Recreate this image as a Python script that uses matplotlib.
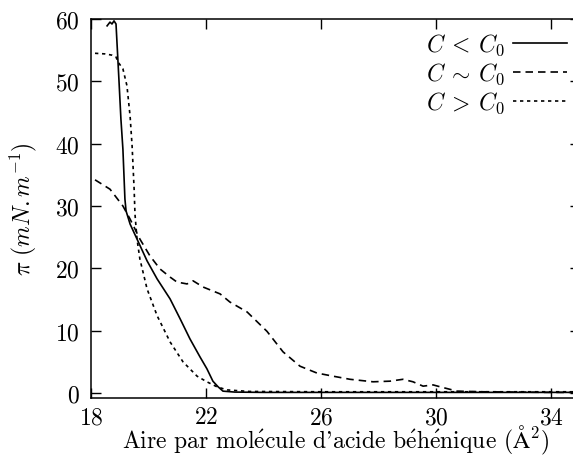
import numpy as np
import matplotlib
matplotlib.use("Agg")
import matplotlib.pyplot as plt

plt.rcParams["font.family"] = ["cmr10", "DejaVu Serif"]
plt.rcParams["mathtext.fontset"] = "cm"
plt.rcParams["axes.formatter.use_mathtext"] = True

# C < C0 (solid)
areaLow = [18.56, 18.66, 18.73, 18.80, 18.87, 18.97, 19.04, 19.11, 19.18, 19.22, 19.36, 19.60,
           19.95, 20.30, 20.75, 21.10, 21.44, 21.79, 22.03, 22.24, 22.42, 22.59, 23.0, 24.0, 28.0, 35.0]
piLow = [58.9, 59.5, 59.2, 59.7, 59.2, 50.4, 44.0, 39.1, 31.1, 29.2, 27.1, 24.7,
         21.2, 18.3, 15.1, 11.9, 8.7, 5.8, 3.9, 1.9, 1.0, 0.3, 0.15, 0.1, 0.1, 0.1]

# C ~ C0 (dashed)
areaMid = [18.14, 18.66, 19.11, 19.36, 19.70, 20.05, 20.40, 20.75, 20.99, 21.34, 21.55, 21.90,
           22.49, 22.83, 23.43, 24.12, 24.68, 25.27, 25.86, 26.42, 27.01, 27.81, 28.40, 28.85,
           29.20, 29.55, 29.90, 30.14, 30.73, 31.63, 33.97, 35.0]
piMid = [34.2, 32.7, 30.0, 27.9, 24.7, 22.0, 19.9, 18.6, 17.8, 17.5, 18.0, 17.0,
         15.9, 14.6, 13.0, 9.9, 6.6, 4.3, 3.2, 2.7, 2.2, 1.8, 1.9, 2.2,
         1.8, 1.1, 1.3, 1.0, 0.3, 0.2, 0.1, 0.1]

# C > C0 (dotted)
areaHigh = [18.14, 18.49, 18.73, 18.87, 18.94, 19.11, 19.25, 19.36, 19.43, 19.50, 19.53, 19.60,
            19.70, 19.95, 20.30, 20.75, 21.20, 21.69, 22.03, 22.38, 22.73, 23.5, 26.0, 35.0]
piHigh = [54.5, 54.4, 54.2, 53.9, 53.1, 52.0, 49.3, 44.4, 39.6, 32.7, 28.7, 24.7,
          21.5, 16.7, 12.4, 8.2, 5.0, 2.7, 1.8, 1.0, 0.5, 0.25, 0.2, 0.2]

labels = [r"$C\: <\: C_0$", r"$C\: \sim\: C_0$", r"$C\: >\: C_0$"]
xTicks = [18, 22, 26, 30, 34]
yTicks = [0, 10, 20, 30, 40, 50, 60]

fig = plt.figure(figsize=(5.73, 4.56), dpi=100)
ax = fig.add_axes([91 / 573, 57 / 456, 488.75 / 573, 379 / 456])

ax.plot(areaLow, piLow, color="black", lw=1.2, label=labels[0])
ax.plot(areaMid, piMid, color="black", lw=1.2, dashes=(4.5, 3), label=labels[1])
ax.plot(areaHigh, piHigh, color="black", lw=1.2, dashes=(2, 2.2), label=labels[2])

ax.set_xlim(18, 35)
ax.set_ylim(-0.8, 60)
ax.set_xticks(xTicks)
ax.set_yticks(yTicks)
ax.tick_params(direction="in", top=True, right=True, length=7, width=1, labelsize=17, pad=8)
ax.tick_params(axis="x", pad=6)
for s in ax.spines.values():
    s.set_linewidth(1.1)

e = r"$\mathrm{\acute{e}}$"
ax.set_xlabel("Aire par mol" + e + "cule d'acide b" + e + "h" + e + r"nique ($\mathrm{\AA}^2$)",
              fontsize=17, labelpad=-4)
ax.set_ylabel(r"$\pi\ (mN.m^{-1})$", fontsize=17, labelpad=12)

ax.legend(loc="upper right", bbox_to_anchor=(567 / 573, 1 - 33 / 456), bbox_transform=fig.transFigure,
          frameon=False, markerfirst=False, fontsize=17, handlelength=2.3, handletextpad=0.3,
          labelspacing=0.15, borderpad=0, borderaxespad=0)

fig.savefig("out.png", dpi=100)
